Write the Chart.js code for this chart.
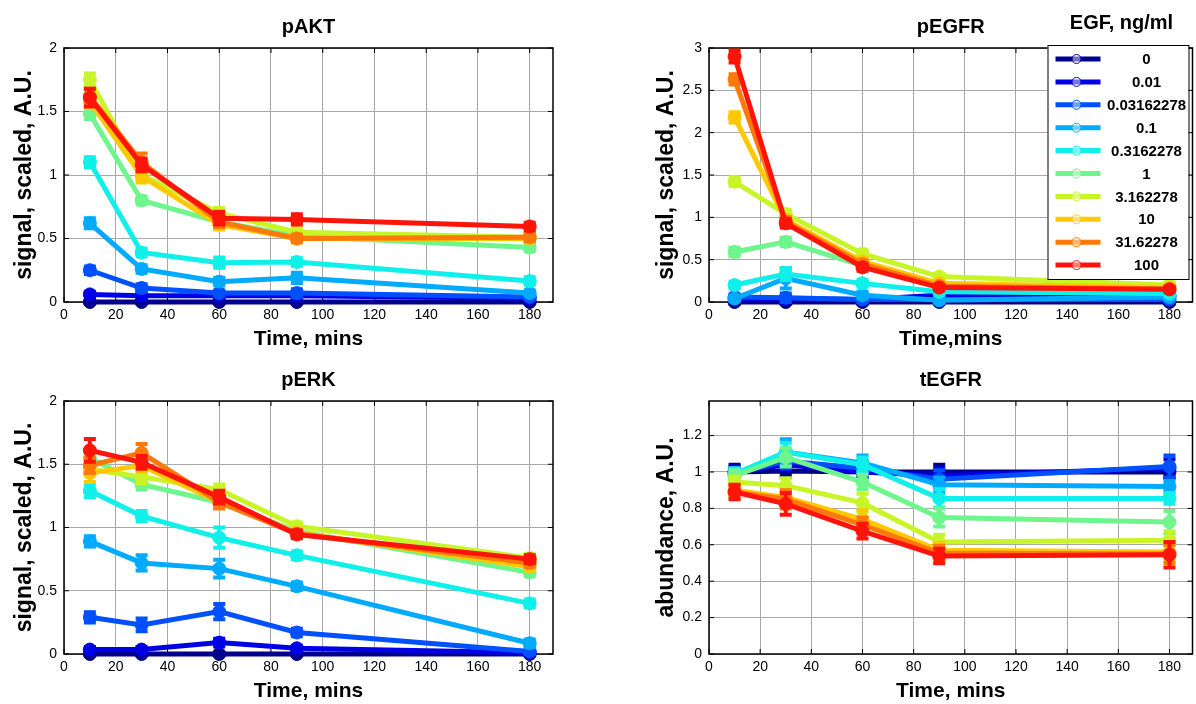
<!DOCTYPE html>
<html>
<head>
<meta charset="utf-8">
<script src="https://cdn.jsdelivr.net/npm/chart.js@4.4.0/dist/chart.umd.min.js"></script>
<style>
  html, body { margin: 0; padding: 0; background: #fff; overflow: hidden; width: 1196px; height: 704px; }
  .panel { position: absolute; }
</style>
</head>
<body>
<div class="panel" style="left:0;top:0"><canvas id="aktChart" width="598" height="352"></canvas></div>
<div class="panel" style="left:598px;top:0"><canvas id="egfrChart" width="602" height="352"></canvas></div>
<div class="panel" style="left:0;top:352px"><canvas id="erkChart" width="598" height="352"></canvas></div>
<div class="panel" style="left:598px;top:352px"><canvas id="tegfrChart" width="602" height="352"></canvas></div>
<script>
// time points (mins) and EGF doses (ng/ml)
const times = [10, 30, 60, 90, 180];
const doses = ["0", "0.01", "0.03162278", "0.1", "0.3162278", "1", "3.162278", "10", "31.62278", "100"];

// one row per dose, one value per time point
const aktValues = [
  [0.00, 0.00, 0.00, 0.00, 0.00],
  [0.06, 0.05, 0.05, 0.05, 0.03],
  [0.25, 0.11, 0.07, 0.07, 0.04],
  [0.62, 0.26, 0.16, 0.19, 0.07],
  [1.10, 0.39, 0.31, 0.315, 0.165],
  [1.48, 0.80, 0.63, 0.52, 0.43],
  [1.75, 1.00, 0.70, 0.55, 0.51],
  [1.58, 0.99, 0.61, 0.50, 0.50],
  [1.62, 1.10, 0.63, 0.50, 0.51],
  [1.61, 1.08, 0.66, 0.65, 0.595],
];
const aktErrors = [
  [0.01, 0.01, 0.01, 0.01, 0.01],
  [0.02, 0.02, 0.01, 0.02, 0.01],
  [0.03, 0.03, 0.02, 0.03, 0.02],
  [0.04, 0.03, 0.03, 0.04, 0.02],
  [0.04, 0.03, 0.04, 0.03, 0.03],
  [0.04, 0.03, 0.03, 0.03, 0.03],
  [0.05, 0.04, 0.04, 0.03, 0.03],
  [0.05, 0.05, 0.04, 0.03, 0.03],
  [0.06, 0.07, 0.04, 0.03, 0.03],
  [0.07, 0.05, 0.05, 0.04, 0.03],
];

const egfrValues = [
  [0.00, 0.00, 0.00, 0.00, 0.00],
  [0.04, 0.04, 0.03, 0.08, 0.07],
  [0.06, 0.05, 0.03, 0.03, 0.03],
  [0.04, 0.28, 0.08, 0.02, 0.06],
  [0.20, 0.33, 0.22, 0.12, 0.10],
  [0.59, 0.71, 0.43, 0.20, 0.17],
  [1.42, 1.04, 0.57, 0.30, 0.20],
  [2.18, 0.97, 0.48, 0.22, 0.17],
  [2.63, 0.95, 0.45, 0.19, 0.15],
  [2.90, 0.93, 0.41, 0.17, 0.15],
];
const egfrErrors = [
  [0.02, 0.02, 0.02, 0.02, 0.02],
  [0.03, 0.03, 0.02, 0.02, 0.02],
  [0.03, 0.05, 0.03, 0.02, 0.02],
  [0.03, 0.12, 0.04, 0.03, 0.03],
  [0.04, 0.07, 0.04, 0.03, 0.03],
  [0.05, 0.05, 0.04, 0.03, 0.03],
  [0.05, 0.05, 0.04, 0.03, 0.03],
  [0.06, 0.05, 0.04, 0.03, 0.03],
  [0.06, 0.05, 0.04, 0.03, 0.03],
  [0.07, 0.05, 0.04, 0.03, 0.03],
];

const erkValues = [
  [0.00, 0.00, 0.00, 0.00, 0.00],
  [0.035, 0.035, 0.09, 0.045, 0.01],
  [0.29, 0.23, 0.335, 0.17, 0.02],
  [0.89, 0.72, 0.675, 0.535, 0.085],
  [1.29, 1.09, 0.92, 0.78, 0.40],
  [1.55, 1.34, 1.20, 0.97, 0.645],
  [1.46, 1.40, 1.30, 1.01, 0.76],
  [1.43, 1.49, 1.20, 0.96, 0.69],
  [1.49, 1.59, 1.20, 0.95, 0.72],
  [1.61, 1.515, 1.24, 0.945, 0.75],
];
const erkErrors = [
  [0.01, 0.01, 0.01, 0.01, 0.01],
  [0.02, 0.02, 0.03, 0.02, 0.01],
  [0.04, 0.05, 0.06, 0.03, 0.02],
  [0.04, 0.06, 0.07, 0.03, 0.03],
  [0.05, 0.04, 0.08, 0.03, 0.03],
  [0.05, 0.04, 0.04, 0.03, 0.03],
  [0.05, 0.05, 0.04, 0.03, 0.03],
  [0.07, 0.05, 0.04, 0.03, 0.03],
  [0.06, 0.07, 0.05, 0.03, 0.03],
  [0.09, 0.05, 0.05, 0.03, 0.03],
];

const tegfrValues = [
  [1.00, 1.005, 1.00, 1.00, 1.00],
  [1.00, 1.04, 1.00, 0.98, 1.02],
  [0.99, 1.06, 1.02, 0.96, 1.03],
  [0.98, 1.11, 1.05, 0.93, 0.92],
  [0.99, 1.11, 1.04, 0.855, 0.855],
  [0.98, 1.08, 0.945, 0.75, 0.725],
  [0.945, 0.925, 0.83, 0.615, 0.625],
  [0.90, 0.86, 0.74, 0.57, 0.56],
  [0.89, 0.85, 0.71, 0.555, 0.55],
  [0.89, 0.825, 0.675, 0.538, 0.545],
];
const tegfrErrors = [
  [0.04, 0.03, 0.03, 0.04, 0.03],
  [0.03, 0.03, 0.03, 0.04, 0.05],
  [0.03, 0.04, 0.03, 0.05, 0.06],
  [0.03, 0.07, 0.04, 0.04, 0.03],
  [0.03, 0.05, 0.04, 0.05, 0.03],
  [0.03, 0.05, 0.04, 0.05, 0.06],
  [0.03, 0.04, 0.05, 0.04, 0.05],
  [0.03, 0.04, 0.05, 0.04, 0.04],
  [0.03, 0.05, 0.04, 0.04, 0.05],
  [0.04, 0.06, 0.04, 0.04, 0.07],
];

// jet-like colours, one per dose
const doseColors = ["#00008c", "#0000e6", "#0050ff", "#00aaff", "#10f0ea", "#6ef58c", "#c8f528", "#ffc800", "#ff780a", "#ff140a"];

const FONT = "'Liberation Sans', Arial, Helvetica, sans-serif";

function fmt(v) {
  return String(Math.round(v * 100) / 100);
}

// box, inner tick marks and panel title (MATLAB axes look)
function axesBoxPlugin(title) {
  return {
    id: "axesBox",
    beforeDatasetsDraw(chart) {
      const { ctx, chartArea: a, scales: { x, y } } = chart;
      ctx.save();
      ctx.strokeStyle = "#000";
      ctx.lineWidth = 1;
      ctx.beginPath();
      x.ticks.forEach((t) => {
        const px = x.getPixelForValue(t.value);
        ctx.moveTo(px, a.bottom); ctx.lineTo(px, a.bottom - 5);
        ctx.moveTo(px, a.top); ctx.lineTo(px, a.top + 5);
      });
      y.ticks.forEach((t) => {
        const py = y.getPixelForValue(t.value);
        ctx.moveTo(a.left, py); ctx.lineTo(a.left + 5, py);
        ctx.moveTo(a.right, py); ctx.lineTo(a.right - 5, py);
      });
      ctx.stroke();
      ctx.lineWidth = 1.5;
      ctx.strokeRect(a.left, a.top, a.right - a.left, a.bottom - a.top);
      ctx.restore();
    },
    afterDraw(chart) {
      const { ctx, chartArea: a } = chart;
      ctx.save();
      ctx.font = "bold 20px " + FONT;
      ctx.fillStyle = "#000";
      ctx.textAlign = "center";
      ctx.textBaseline = "alphabetic";
      ctx.fillText(title, (a.left + a.right) / 2, a.top - 15);
      ctx.restore();
    },
  };
}

// vertical error bars, drawn just under each series
function errorBarPlugin(errors) {
  return {
    id: "errorBars",
    beforeDatasetDraw(chart, args) {
      const i = args.index;
      const ds = chart.data.datasets[i];
      const y = chart.scales.y;
      const ctx = chart.ctx;
      ctx.save();
      ctx.strokeStyle = ds.borderColor;
      ctx.lineWidth = 4;
      ctx.lineCap = "butt";
      args.meta.data.forEach((pt, j) => {
        const v = ds.data[j].y;
        const e = errors[i][j];
        const y1 = y.getPixelForValue(v - e);
        const y2 = y.getPixelForValue(v + e);
        ctx.beginPath();
        ctx.moveTo(pt.x, y1); ctx.lineTo(pt.x, y2);
        ctx.moveTo(pt.x - 6, y1); ctx.lineTo(pt.x + 6, y1);
        ctx.moveTo(pt.x - 6, y2); ctx.lineTo(pt.x + 6, y2);
        ctx.stroke();
      });
      ctx.restore();
    },
  };
}

// legend box sitting inside the pEGFR axes
const doseLegend = {
  id: "doseLegend",
  afterDraw(chart) {
    const { ctx, chartArea: a } = chart;
    const left = a.right - 145;
    const top = 45;
    const w = 141;
    const h = 234;
    ctx.save();
    ctx.font = "bold 20px " + FONT;
    ctx.fillStyle = "#000";
    ctx.textAlign = "center";
    ctx.fillText("EGF, ng/ml", left + 74, 29);

    ctx.fillStyle = "#fff";
    ctx.fillRect(left, top, w, h);
    ctx.strokeStyle = "#000";
    ctx.lineWidth = 1;
    ctx.strokeRect(left + 0.5, top + 0.5, w, h);

    ctx.font = "bold 15px " + FONT;
    ctx.textBaseline = "middle";
    chart.data.datasets.forEach((ds, i) => {
      const cy = top + 14 + i * 22.9;
      ctx.strokeStyle = ds.borderColor;
      ctx.lineWidth = 5;
      ctx.beginPath();
      ctx.moveTo(left + 8, cy);
      ctx.lineTo(left + 53, cy);
      ctx.stroke();
      ctx.beginPath();
      ctx.arc(left + 29, cy, 4.5, 0, Math.PI * 2);
      ctx.fillStyle = "rgba(255,255,255,0.45)";
      ctx.fill();
      ctx.lineWidth = 1;
      ctx.stroke();
      ctx.fillStyle = "#000";
      ctx.fillText(ds.label, left + 99, cy + 1);
    });
    ctx.restore();
  },
};

function makePanel(canvasId, opts) {
  const datasets = opts.values.map((vals, i) => ({
    label: doses[i],
    data: times.map((t, j) => ({ x: t, y: vals[j] })),
    borderColor: doseColors[i],
    backgroundColor: doseColors[i],
    pointBackgroundColor: doseColors[i],
    pointBorderColor: doseColors[i],
    borderWidth: 5,
    pointRadius: 6.5,
    pointBorderWidth: 1,
    tension: 0,
    clip: false,
    order: doseColors.length - i,
  }));

  const plugins = [axesBoxPlugin(opts.title), errorBarPlugin(opts.errors)];
  if (opts.legend) plugins.push(doseLegend);

  new Chart(document.getElementById(canvasId), {
    type: "line",
    data: { datasets },
    plugins,
    options: {
      responsive: false,
      animation: false,
      events: [],
      layout: { padding: { left: 0, right: opts.padRight, top: opts.padTop, bottom: 0 } },
      plugins: { legend: { display: false }, tooltip: { enabled: false }, title: { display: false } },
      scales: {
        x: {
          type: "linear",
          min: 0,
          max: 189,
          afterFit: (s) => { s.height = 50; },
          ticks: { stepSize: 20, includeBounds: false, padding: 5, maxRotation: 0, autoSkip: false,
                   color: "#000", font: { family: FONT, size: 14 }, callback: fmt },
          grid: { color: "#a8a8a8", lineWidth: 1, drawTicks: false },
          border: { display: false },
          title: { display: true, text: opts.xTitle, color: "#000", padding: { top: 0, bottom: 0 },
                   font: { family: FONT, size: 21, weight: "bold" } },
        },
        y: {
          min: 0,
          max: opts.yMax,
          afterFit: (s) => { s.width = opts.yWidth; },
          ticks: { stepSize: opts.yStep, includeBounds: false, padding: 7, autoSkip: false,
                   color: "#000", font: { family: FONT, size: 14 }, callback: fmt },
          grid: { color: "#a8a8a8", lineWidth: 1, drawTicks: false },
          border: { display: false },
          title: { display: true, text: opts.yTitle, color: "#000", padding: { top: opts.yTitlePad, bottom: 0 },
                   font: { family: FONT, size: 23, weight: "bold" } },
        },
      },
    },
  });
}

makePanel("aktChart", {
  title: "pAKT", values: aktValues, errors: aktErrors, yMax: 2, yStep: 0.5,
  xTitle: "Time, mins", yTitle: "signal, scaled, A.U.",
  padTop: 48, padRight: 45, yWidth: 64, yTitlePad: 11,
});
makePanel("egfrChart", {
  title: "pEGFR", values: egfrValues, errors: egfrErrors, yMax: 3, yStep: 0.5,
  xTitle: "Time,mins", yTitle: "signal, scaled, A.U.",
  padTop: 48, padRight: 2, yWidth: 111, yTitlePad: 55, legend: true,
});
makePanel("erkChart", {
  title: "pERK", values: erkValues, errors: erkErrors, yMax: 2, yStep: 0.5,
  xTitle: "Time, mins", yTitle: "signal, scaled, A.U.",
  padTop: 49, padRight: 45, yWidth: 64, yTitlePad: 11,
});
makePanel("tegfrChart", {
  title: "tEGFR", values: tegfrValues, errors: tegfrErrors, yMax: 1.39, yStep: 0.2,
  xTitle: "Time, mins", yTitle: "abundance, A.U.",
  padTop: 49, padRight: 2, yWidth: 111, yTitlePad: 55,
});
</script>
</body>
</html>
